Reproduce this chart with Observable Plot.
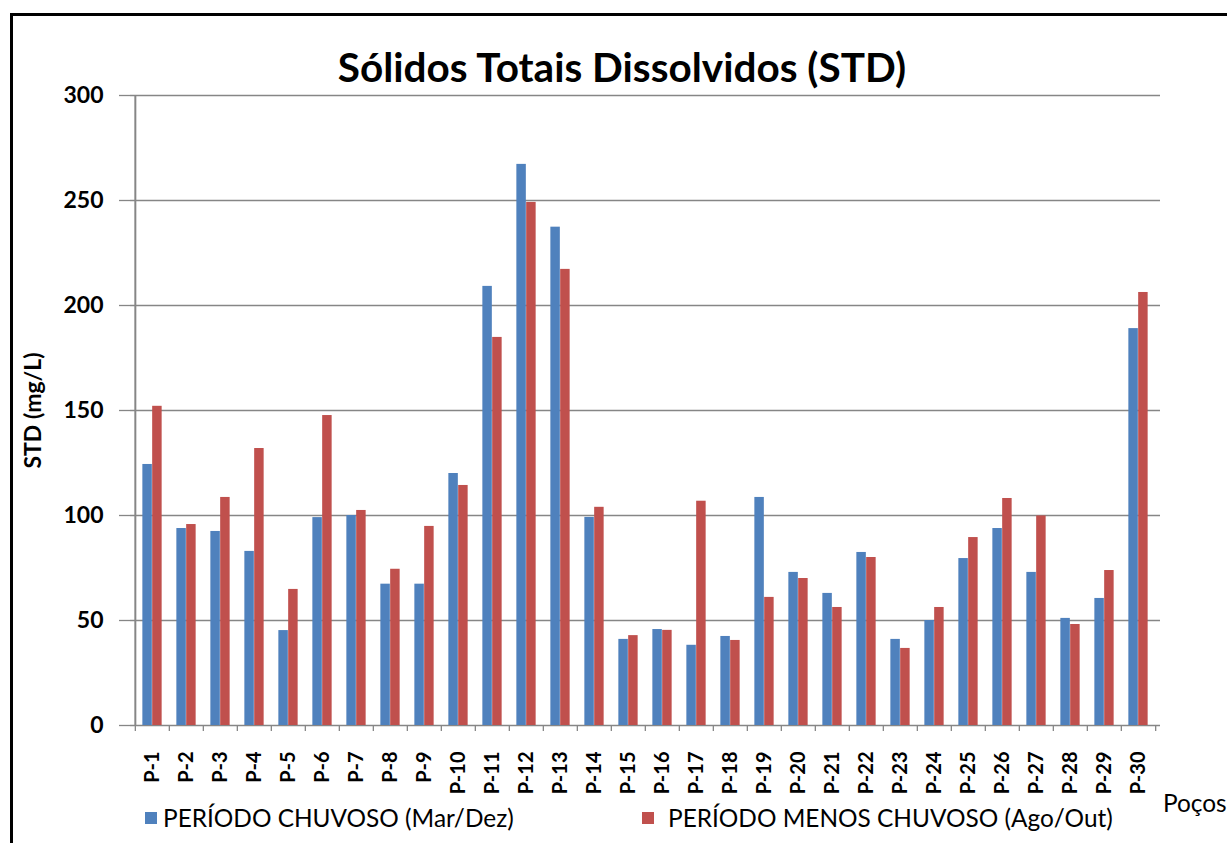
<!DOCTYPE html>
<html>
<head>
<meta charset="utf-8">
<script src="https://cdn.jsdelivr.net/npm/d3@7"></script>
<script src="https://cdn.jsdelivr.net/npm/@observablehq/plot@0.6"></script>
<style>
  html, body { margin: 0; padding: 0; background: #fff; }
  #wrap { position: relative; width: 1227px; height: 843px; overflow: hidden; font-family: Lato, "Open Sans", sans-serif; }
  #border { position: absolute; left: 10px; top: 13px; width: 1300px; height: 900px; border: 3px solid #000; box-sizing: border-box; }
  #chart { position: absolute; left: 0; top: 0; }
  #title { position: absolute; left: 0; width: 1244px; top: 43px; line-height: 48px; text-align: center; font-size: 40.5px; font-weight: bold; color: #000; }
  .leg { position: absolute; top: 803px; line-height: 30px; font-size: 24.4px; color: #000; white-space: nowrap; }
  .sw { position: absolute; top: 812px; width: 12px; height: 12px; }
  #pocos { position: absolute; left: 1163px; top: 788px; line-height: 30px; font-size: 24.4px; color: #000; white-space: nowrap; }
</style>
</head>
<body>
<div id="wrap">
  <div id="border"></div>
  <div id="chart"></div>
  <div id="title">Sólidos Totais Dissolvidos (STD)</div>
  <div class="sw" id="sw0" style="left:145px"></div>
  <div class="leg" id="lg0" style="left:163px"></div>
  <div class="sw" id="sw1" style="left:642px"></div>
  <div class="leg" id="lg1" style="left:668px"></div>
  <div id="pocos">Poços</div>
</div>
<script>
const wells = ["P-1","P-2","P-3","P-4","P-5","P-6","P-7","P-8","P-9","P-10",
  "P-11","P-12","P-13","P-14","P-15","P-16","P-17","P-18","P-19","P-20",
  "P-21","P-22","P-23","P-24","P-25","P-26","P-27","P-28","P-29","P-30"];
const chuvoso = [124.3, 93.8, 92.4, 82.9, 45.2, 99, 100, 67.3, 67.3, 120,
  209.1, 267.2, 237.3, 99.1, 41, 45.7, 38.2, 42.4, 108.6, 72.9,
  62.9, 82.4, 41, 50, 79.5, 93.8, 72.9, 51, 60.5, 189];
const menosChuvoso = [152, 95.7, 108.6, 131.9, 64.8, 147.6, 102.4, 74.4, 94.8, 114.3,
  184.8, 249.1, 217.2, 103.9, 42.8, 45.3, 106.8, 40.5, 61, 70,
  56.2, 80, 36.7, 56.2, 89.5, 108.1, 99.8, 48.1, 73.8, 206.2];
const yTicks = [0, 50, 100, 150, 200, 250, 300];
const seriesNames = ["PERÍODO CHUVOSO (Mar/Dez)", "PERÍODO MENOS CHUVOSO (Ago/Out)"];
const colors = ["#4F81BD", "#C0504D"];

seriesNames.forEach((n, i) => {
  document.getElementById("lg" + i).textContent = n;
  document.getElementById("sw" + i).style.background = colors[i];
});

const W = 1227, H = 843, mL = 130, mR = 67, mT = 95, mB = 118;
const bw = (W - mL - mR) / wells.length;
const barW = bw / 3.5;           // gap width 150%
const outer = barW * 0.75;

const dataA = wells.map((w, i) => ({well: w, value: chuvoso[i]}));
const dataB = wells.map((w, i) => ({well: w, value: menosChuvoso[i]}));
const grid = "#868686";

const plot = Plot.plot({
  width: W, height: H,
  marginLeft: mL, marginRight: mR, marginTop: mT, marginBottom: mB,
  style: {fontFamily: "Lato, 'Open Sans', sans-serif", color: "#000", background: "transparent"},
  x: {domain: wells, padding: 0, label: null},
  y: {domain: [0, 300], label: null},
  marks: [
    Plot.ruleY(yTicks, {stroke: grid, strokeWidth: 1.3}),
    Plot.barY(dataA, {x: "well", y: "value", fill: colors[0], insetLeft: outer, insetRight: bw - outer - barW}),
    Plot.barY(dataB, {x: "well", y: "value", fill: colors[1], insetLeft: outer + barW, insetRight: outer}),
    Plot.ruleX([wells[0]], {dx: -bw / 2, y1: 0, y2: 300, stroke: grid, strokeWidth: 2}),
    Plot.axisY({ticks: yTicks, tickSize: 11, tickPadding: 16, stroke: grid, strokeWidth: 1.3,
      fontSize: 23, fontWeight: "bold", tickFormat: d3.format("d"), label: null}),
    Plot.axisX({ticks: wells, tickSize: 6, tickFormat: () => "", dx: -bw / 2, stroke: grid, strokeWidth: 1.3, label: null}),
    Plot.axisX({ticks: [wells[wells.length - 1]], tickSize: 6, tickFormat: () => "", dx: bw / 2, stroke: grid, strokeWidth: 1.3, label: null}),
    Plot.axisX({ticks: wells, tickSize: 0, tickPadding: 26, tickRotate: -90, fontSize: 20, fontWeight: "bold", label: null}),
    Plot.text(["STD (mg/L)"], {frameAnchor: "left", textAnchor: "middle", dx: -97, rotate: -90, fontSize: 23, fontWeight: "bold", fill: "#000"})
  ]
});
document.getElementById("chart").appendChild(plot);
</script>
</body>
</html>
